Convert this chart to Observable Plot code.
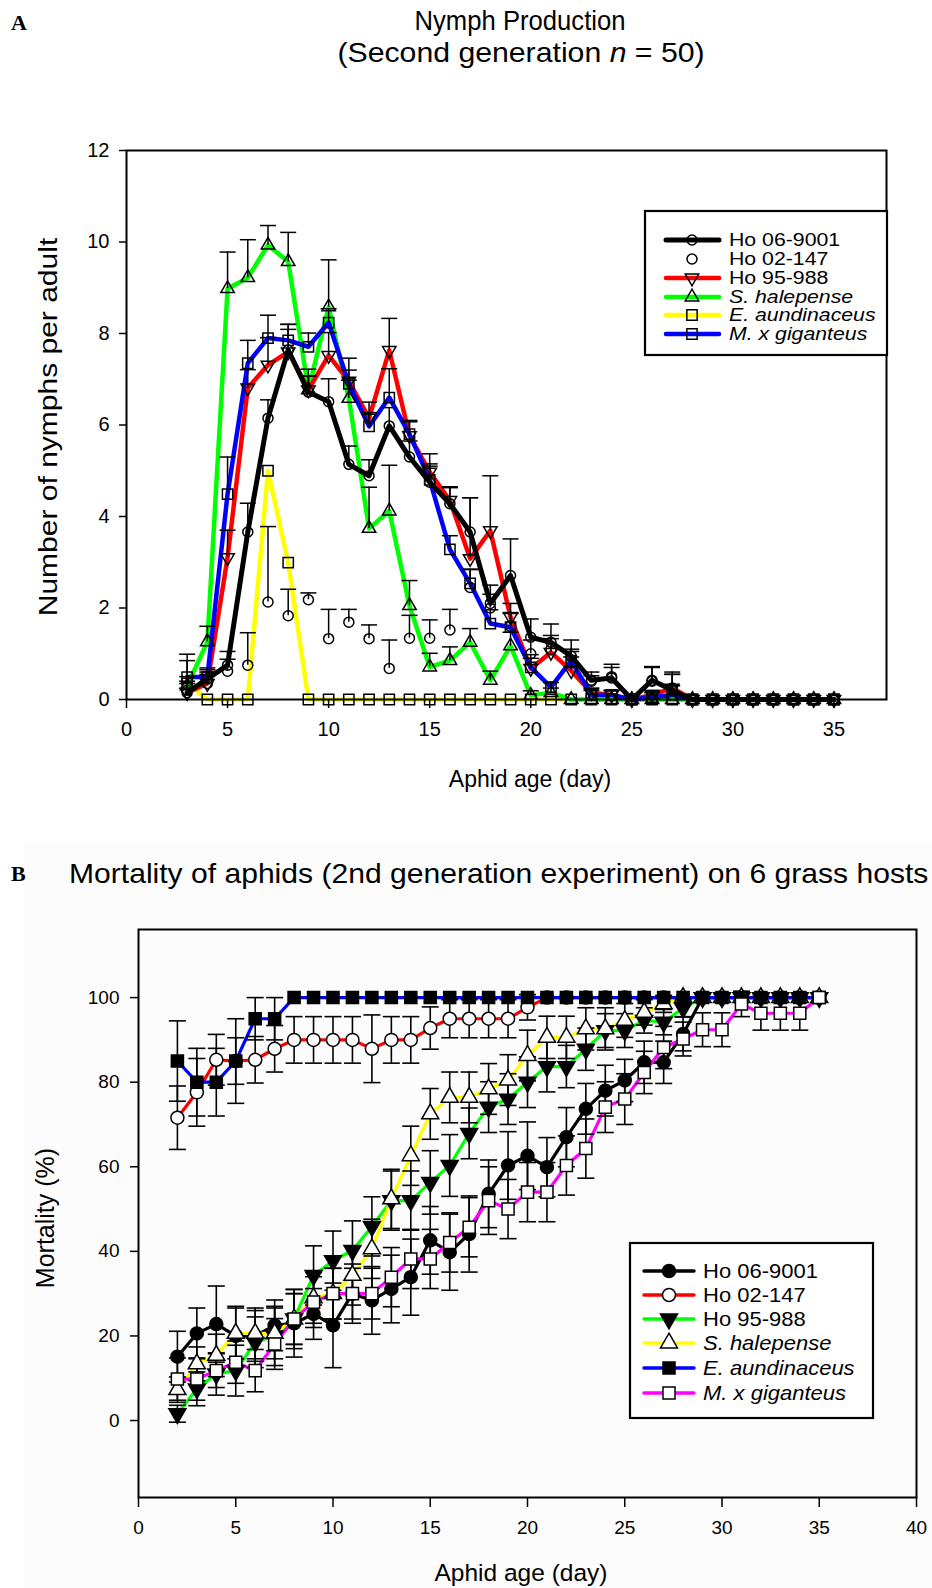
<!DOCTYPE html>
<html>
<head>
<meta charset="utf-8">
<script src="https://cdn.jsdelivr.net/npm/d3@7"></script>
<script src="https://cdn.jsdelivr.net/npm/@observablehq/plot@0.6"></script>
<style>
  html, body { margin: 0; padding: 0; background: #fff; }
  #root { position: relative; width: 932px; height: 1588px; overflow: hidden; font-family: "Liberation Sans", Arial, sans-serif; }
  #bgB { position: absolute; left: 24px; top: 843px; width: 908px; height: 745px; background: #fcfcfc; }
  .plot { position: absolute; left: 0; }
  #overlay { position: absolute; left: 0; top: 0; pointer-events: none; }
</style>
</head>
<body>
<div id="root"><div id="bgB"></div></div>
<script>
// ---------------- Panel A data: nymphs per adult ----------------
const daysA = [3,4,5,6,7,8,9,10,11,12,13,14,15,16,17,18,19,20,21,22,23,24,25,26,27,28,29,30,31,32,33,34,35];
const nymphHo069001 = [0.15,0.45,0.75,3.66,6.15,7.64,6.72,6.51,5.14,4.89,5.98,5.3,4.75,4.28,3.66,2.1,2.71,1.36,1.25,0.95,0.42,0.47,0,0.42,0.2,0,0,0,0,0,0,0,0];
const nymphHo02147  = [0.2,0.35,0.62,0.75,2.13,1.83,2.18,1.33,1.69,1.33,0.68,1.34,1.34,1.52,2.45,2.0,1.6,1.0,1.1,0.8,0.4,0.5,0,0.4,0.25,0,0,0,0,0,0,0,0];
const nymphHo95988  = [0.15,0.35,3.1,6.81,7.31,7.6,6.77,7.52,6.96,6.15,7.63,5.77,4.97,4.35,3.08,3.69,1.8,0.68,1.03,0.63,0.15,0.1,0,0.1,0.25,0,0,0,0,0,0,0,0];
const nymphSHal     = [0.3,1.26,8.98,9.22,9.93,9.57,6.77,8.58,6.58,3.74,4.12,2.05,0.71,0.85,1.25,0.42,1.17,0.09,0.15,0,0,0,0,0,0,0,0,0,0,0,0,0,0];
const nymphEAund    = [0.35,0,0,0,5.0,2.99,0,0,0,0,0,0,0,0,0,0,0,0,0,0,0,0,0,0,0,0,0,0,0,0,0,0,0];
const nymphMGig     = [0.49,0.49,4.49,7.35,7.9,7.85,7.71,8.24,6.9,5.97,6.6,5.8,4.8,3.28,2.54,1.66,1.58,0.7,0.27,0.85,0.1,0.1,0,0.05,0.1,0,0,0,0,0,0,0,0];
// upper standard errors
const errAHo069001 = [0.1,0.15,0.3,0.63,0.4,0.45,0.5,0.5,0.4,0.35,0.4,0.35,0.4,0.35,0.75,0.4,0.8,0.4,0.4,0.35,0.1,0.3,0,0.3,0.4,0,0,0,0,0,0,0,0];
const errAHo02147  = [0.2,0.2,0.26,0.71,1.65,0.58,0.15,0.64,0.28,0.3,0.62,0.5,0.4,0.45,0.4,0.3,0.3,0.3,0.3,0.3,0.2,0.2,0,0.3,0.3,0,0,0,0,0,0,0,0];
const errAHo95988  = [0.2,0.3,0.6,0.4,0.6,0.6,0.3,0.5,0.5,0.35,0.7,0.3,0.4,0.3,1.33,1.2,0.3,0.3,0.3,0.3,0.1,0.1,0,0.1,0.3,0,0,0,0,0,0,0,0];
const errASHal     = [0.2,0.34,0.8,0.83,0.43,0.64,0.3,1.03,0.4,0.9,1.0,0.55,0.3,0.3,0.3,0.2,0.3,0.1,0.1,0,0,0,0,0,0,0,0,0,0,0,0,0,0];
const errAEAund    = [0.5,0,0,0,0,0,0,0,0,0,0,0,0,0,0,0,0,0,0,0,0,0,0,0,0,0,0,0,0,0,0,0,0];
const errAMGig     = [0.5,0.2,0.81,0.5,0.5,0.35,0.3,0.3,0.3,0.3,0.63,0.3,0.3,0.3,0.3,0.3,0.3,0.2,0.1,0.2,0.1,0.1,0,0.1,0.2,0,0,0,0,0,0,0,0];
const ticksAX = [0,5,10,15,20,25,30,35];
const ticksAY = [0,2,4,6,8,10,12];

// ---------------- Panel B data: mortality (%) ----------------
const daysB = [2,3,4,5,6,7,8,9,10,11,12,13,14,15,16,17,18,19,20,21,22,23,24,25,26,27,28,29,30,31,32,33,34,35];
const mortHo069001 = [15.1,20.6,22.8,20,20,22.5,23,25.2,22.5,30,28.4,31.1,33.9,42.6,39.8,44.1,53.6,60.3,62.6,59.9,67,73.7,78,80.4,84.7,84.7,91.4,100,100,100,100,100,100,100];
const mortHo02147  = [71.6,77.6,85.3,85,85.3,87.9,90,90,90,90,87.9,90,90,92.8,95,95,95,95,97.7,100,100,100,100,100,100,100,100,100,100,100,100,100,100,100];
const mortHo95988  = [1.6,7.5,11,11.8,18.5,20,24,34.3,37.8,40.2,45.9,52,52,56.3,60.3,67.9,74.1,76,80,83.7,83.7,87.8,92.2,92.2,94.6,94.2,97.5,100,100,100,100,100,100,100];
const mortSHal     = [7.3,13.4,15.4,20.6,20.6,20.6,24,29,30,34.3,40.6,52.4,62.6,72.5,76.4,76.4,78.4,80.5,86.3,90.6,90.6,92.6,92.6,94.6,96.5,98.5,100,100,100,100,100,100,100,100];
const mortEAund    = [85,80,80,85,95,95,100,100,100,100,100,100,100,100,100,100,100,100,100,100,100,100,100,100,100,100,100,100,100,100,100,100,100,100];
const mortMGig     = [9.8,9.8,11.8,13.8,11.8,18.1,24,28,30,30,30,33.9,38.2,38.2,42.1,45.7,52,50,54,54,60.3,64.3,74.1,76,82.3,88.2,90.2,92.4,92.4,98.5,96.3,96.3,96.3,100];
// symmetric standard errors
const errBHo069001 = [6,6,9,7,6,6,8,6,10,7,8,8,9,8,9,9,8,8,8,7,7,6,6,5,5,5,4,0,0,0,0,0,0,0];
const errBHo02147  = [7.5,8,6,5.5,5.5,5.5,5.5,5.5,5.5,5.5,8,5.5,5.5,5,4.5,4.5,4.5,4.5,3,0,0,0,0,0,0,0,0,0,0,0,0,0,0,0];
const errBHo95988  = [2,4,5,6,6,7,7,7,7,7,7,7,7,7.5,7.3,6,6,6,6,6,5,5,4,4,3,3,2,0,0,0,0,0,0,0];
const errBSHal     = [3,4,5,6,6,6,6,6,6,7,7,7,7,6,6,6,6,6,6,5,5,5,5,4,3,2,0,0,0,0,0,0,0,0];
const errBEAund    = [9.5,8,8,10,5,5,0,0,0,0,0,0,0,0,0,0,0,0,0,0,0,0,0,0,0,0,0,0,0,0,0,0,0,0];
const errBMGig     = [5,5,4,5,5,6,6,6,6,6,6,7,7,7,7,7,8,7,7,7,7,7,6,6,5,5,4,4,4,3,4,4,4,0];
const ticksBX = [0,5,10,15,20,25,30,35,40];
const ticksBY = [0,20,40,60,80,100];

// ---------------- helpers ----------------
const FONT = '"Liberation Sans", Arial, sans-serif';
const capSymbol = { draw(ctx, size) { const w = Math.sqrt(size / Math.PI); ctx.moveTo(-w, 0); ctx.lineTo(w, 0); } };
const toRows = (days, vals, errs) => days.map((d, i) => ({ day: d, v: vals[i], e: errs[i] }));
const symType = { circle: d3.symbolCircle, square: d3.symbolSquare, triangle: d3.symbolTriangle };

const seriesA = [
  { name: "Ho 06-9001",     italic: false, rows: toRows(daysA, nymphHo069001, errAHo069001), color: "#000000", line: true,  lw: 5,   symbol: "circle",   r: 5,   rotate: 0 },
  { name: "Ho 02-147",      italic: false, rows: toRows(daysA, nymphHo02147,  errAHo02147),  color: "#000000", line: false, lw: 0,   symbol: "circle",   r: 5,   rotate: 0 },
  { name: "Ho 95-988",      italic: false, rows: toRows(daysA, nymphHo95988,  errAHo95988),  color: "#ff0000", line: true,  lw: 4.5, symbol: "triangle", r: 5,   rotate: 180 },
  { name: "S. halepense",   italic: true,  rows: toRows(daysA, nymphSHal,     errASHal),     color: "#00ff00", line: true,  lw: 4.5, symbol: "triangle", r: 5,   rotate: 0 },
  { name: "E. aundinaceus", italic: true,  rows: toRows(daysA, nymphEAund,    errAEAund),    color: "#ffff00", line: true,  lw: 4.5, symbol: "square",   r: 5.8, rotate: 0 },
  { name: "M. x giganteus", italic: true,  rows: toRows(daysA, nymphMGig,     errAMGig),     color: "#0000ff", line: true,  lw: 4.5, symbol: "square",   r: 5.8, rotate: 0 }
];
const seriesB = [
  { name: "Ho 06-9001",     italic: false, rows: toRows(daysB, mortHo069001, errBHo069001), color: "#000000", symbol: "circle",   fill: "#000", r: 6.5, rotate: 0 },
  { name: "Ho 02-147",      italic: false, rows: toRows(daysB, mortHo02147,  errBHo02147),  color: "#ff0000", symbol: "circle",   fill: "#fff", r: 6.5, rotate: 0 },
  { name: "Ho 95-988",      italic: false, rows: toRows(daysB, mortHo95988,  errBHo95988),  color: "#00ff00", symbol: "triangle", fill: "#000", r: 6.3, rotate: 180 },
  { name: "S. halepense",   italic: true,  rows: toRows(daysB, mortSHal,     errBSHal),     color: "#ffff00", symbol: "triangle", fill: "#fff", r: 6.3, rotate: 0 },
  { name: "E. aundinaceus", italic: true,  rows: toRows(daysB, mortEAund,    errBEAund),    color: "#0000ff", symbol: "square",   fill: "#000", r: 6.8, rotate: 0 },
  { name: "M. x giganteus", italic: true,  rows: toRows(daysB, mortMGig,     errBMGig),     color: "#ff00ff", symbol: "square",   fill: "#fff", r: 6.8, rotate: 0 }
];

// ---------------- Panel A plot ----------------
const marksA = [];
for (const i of [4, 3, 2, 5, 0]) {
  const s = seriesA[i];
  marksA.push(Plot.line(s.rows, { x: "day", y: "v", stroke: s.color, strokeWidth: s.lw, strokeLinejoin: "round" }));
}
for (const s of seriesA) {
  const r = s.rows.filter(d => d.e > 0);
  marksA.push(Plot.ruleX(r, { x: "day", y1: "v", y2: d => d.v + d.e, stroke: "#000", strokeWidth: 1.5 }));
  marksA.push(Plot.dot(r, { x: "day", y: d => d.v + d.e, symbol: capSymbol, r: 8, stroke: "#000", strokeWidth: 1.5 }));
}
for (const i of [4, 3, 2, 5, 0, 1]) {
  const s = seriesA[i];
  marksA.push(Plot.dot(s.rows, { x: "day", y: "v", symbol: s.symbol, r: s.r, rotate: s.rotate, stroke: "#000", fill: "none", strokeWidth: 1.5 }));
}
marksA.push(Plot.frame({ stroke: "#000", strokeWidth: 2 }));
marksA.push(Plot.axisX(ticksAX, { anchor: "bottom", tickSize: 9, tickPadding: 13, fontSize: 20, strokeWidth: 1.5, label: null }));
marksA.push(Plot.axisY(ticksAY, { anchor: "left", tickSize: 7, tickPadding: 10, fontSize: 20, strokeWidth: 1.5, label: null }));

const plotA = Plot.plot({
  width: 932, height: 800,
  marginLeft: 126, marginRight: 46, marginTop: 150, marginBottom: 101,
  x: { domain: [0, 37.6] },
  y: { domain: [0, 12] },
  style: { fontFamily: FONT, color: "#000", background: "transparent", overflow: "visible" },
  marks: marksA
});
plotA.classList.add("plot");
plotA.style.top = "0px";
document.getElementById("root").appendChild(plotA);

// ---------------- Panel B plot ----------------
const marksB = [];
for (const s of seriesB) {
  marksB.push(Plot.line(s.rows, { x: "day", y: "v", stroke: s.color, strokeWidth: 3.2, strokeLinejoin: "round" }));
}
for (const s of seriesB) {
  const r = s.rows.filter(d => d.e > 0);
  marksB.push(Plot.ruleX(r, { x: "day", y1: d => d.v - d.e, y2: d => d.v + d.e, stroke: "#000", strokeWidth: 1.6 }));
  marksB.push(Plot.dot(r, { x: "day", y: d => d.v + d.e, symbol: capSymbol, r: 8.5, stroke: "#000", strokeWidth: 1.6 }));
  marksB.push(Plot.dot(r, { x: "day", y: d => d.v - d.e, symbol: capSymbol, r: 8.5, stroke: "#000", strokeWidth: 1.6 }));
}
for (const s of seriesB) {
  marksB.push(Plot.dot(s.rows, { x: "day", y: "v", symbol: s.symbol, r: s.r, rotate: s.rotate, stroke: "#000", fill: s.fill, strokeWidth: 1.5 }));
}
marksB.push(Plot.frame({ stroke: "#000", strokeWidth: 2 }));
marksB.push(Plot.axisX(ticksBX, { anchor: "bottom", tickSize: 10, tickPadding: 13, fontSize: 19, strokeWidth: 1.5, label: null }));
marksB.push(Plot.axisY(ticksBY, { anchor: "left", tickSize: 8, tickPadding: 11, fontSize: 19, strokeWidth: 1.5, label: null }));

const plotB = Plot.plot({
  width: 932, height: 748,
  marginLeft: 138, marginRight: 16, marginTop: 89, marginBottom: 91,
  x: { domain: [0, 40] },
  y: { domain: [-18.2, 116.1] },
  style: { fontFamily: FONT, color: "#000", background: "transparent", overflow: "visible" },
  marks: marksB
});
plotB.classList.add("plot");
plotB.style.top = "840px";
document.getElementById("root").appendChild(plotB);

// ---------------- overlay: titles, labels, legends ----------------
const ov = d3.select("#root").append("svg").attr("id", "overlay")
  .attr("width", 932).attr("height", 1588).attr("font-family", FONT);

function txt(x, y, s, size, opts = {}) {
  const t = ov.append("text").attr("x", 0).attr("y", 0).attr("font-size", size)
    .attr("text-anchor", opts.anchor || "start").attr("dominant-baseline", "central").attr("fill", "#000")
    .attr("transform", `translate(${x},${y}) rotate(${opts.rotate || 0}) scale(${opts.sx || 1},1)`);
  if (opts.family) t.attr("font-family", opts.family);
  if (opts.weight) t.attr("font-weight", opts.weight);
  if (opts.italic) t.attr("font-style", "italic");
  if (s !== null) t.text(s);
  return t;
}
const SERIF = '"Liberation Serif", "Times New Roman", serif';
txt(11, 22, "A", 22, { family: SERIF, weight: "bold" });
txt(520, 21, "Nymph Production", 27, { anchor: "middle", sx: 0.95 });
const sub = txt(521, 52, null, 28, { anchor: "middle", sx: 1.08 });
sub.append("tspan").text("(Second generation ");
sub.append("tspan").attr("font-style", "italic").text("n");
sub.append("tspan").text(" = 50)");
txt(48, 427, "Number of nymphs per adult", 25, { anchor: "middle", rotate: -90, sx: 1.2 });
txt(530, 779, "Aphid age (day)", 23, { anchor: "middle" });

txt(11, 873, "B", 22, { family: SERIF, weight: "bold" });
txt(69, 873, "Mortality of aphids (2nd generation experiment) on 6 grass hosts", 28, { sx: 1.075 });
txt(45, 1218, "Mortality (%)", 25, { anchor: "middle", rotate: -90 });
txt(521, 1572, "Aphid age (day)", 24.5, { anchor: "middle" });

function legend(box, series, rowYs, cfg) {
  ov.append("rect").attr("x", box.x).attr("y", box.y).attr("width", box.w).attr("height", box.h)
    .attr("fill", "#fff").attr("stroke", "#000").attr("stroke-width", 2.2);
  series.forEach((s, i) => {
    const y = box.y + rowYs[i];
    if (cfg.line(s)) {
      ov.append("line").attr("x1", box.x + cfg.x1).attr("x2", box.x + cfg.x2).attr("y1", y).attr("y2", y)
        .attr("stroke", s.color).attr("stroke-width", cfg.lw(s)).attr("stroke-linecap", "round");
    }
    const path = d3.symbol(symType[s.symbol], Math.PI * s.r * s.r)();
    ov.append("path").attr("d", path)
      .attr("transform", `translate(${box.x + cfg.mx},${y}) rotate(${s.rotate})`)
      .attr("fill", cfg.fill(s)).attr("stroke", "#000").attr("stroke-width", 1.5);
    txt(box.x + cfg.tx, y, s.name, cfg.fs, { italic: s.italic, sx: cfg.sx });
  });
}
legend({ x: 645, y: 211, w: 242, h: 144 }, seriesA, [29, 48, 67, 86, 104, 123],
  { x1: 21, x2: 74, mx: 47, tx: 84, fs: 18.5, sx: 1.15, line: s => s.line, lw: s => s.name === "Ho 06-9001" ? 5 : 4.5, fill: () => "none" });
legend({ x: 630, y: 1243, w: 243, h: 175 }, seriesB, [28, 52, 76, 100, 125, 150],
  { x1: 14, x2: 64, mx: 39, tx: 73, fs: 20, sx: 1.1, line: () => true, lw: () => 3.5, fill: s => s.fill });
</script>
</body>
</html>
